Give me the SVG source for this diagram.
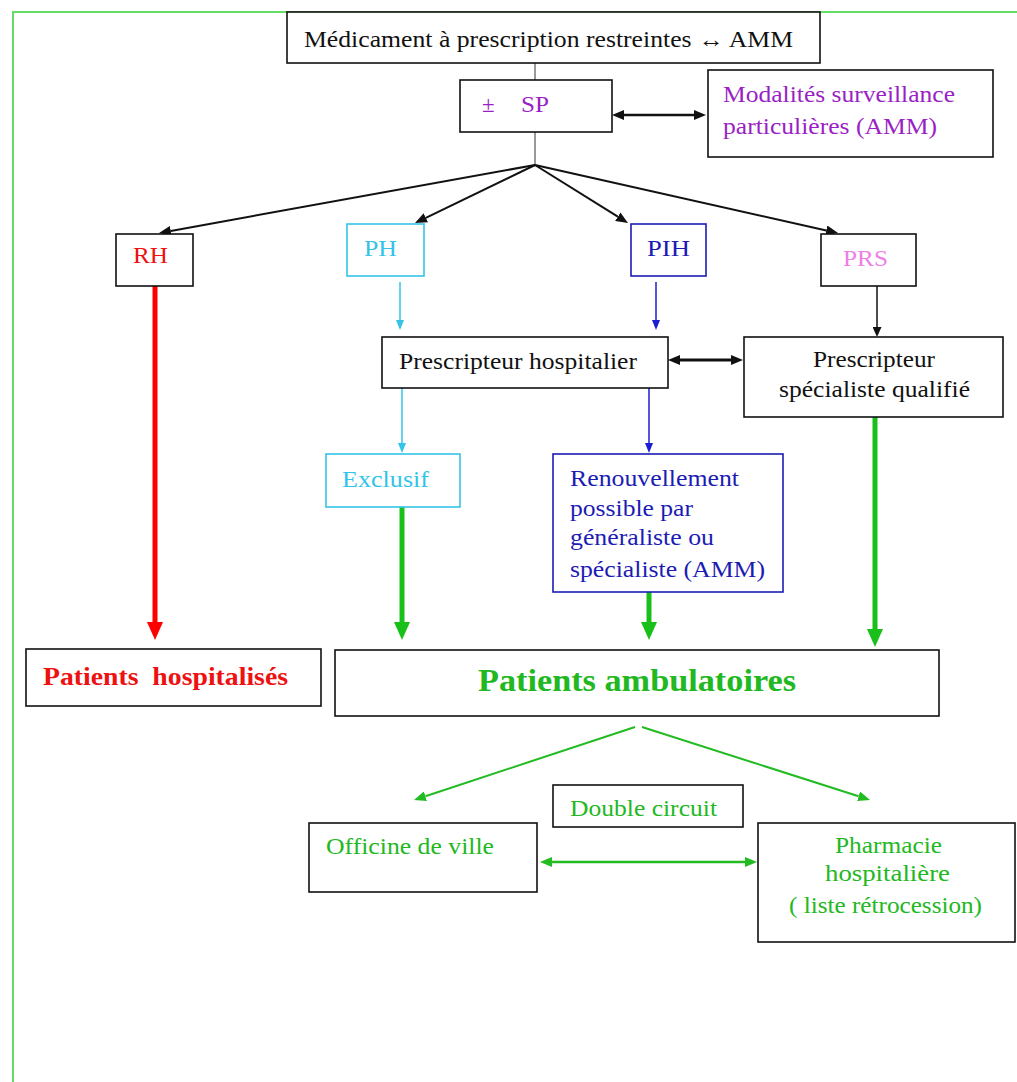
<svg xmlns="http://www.w3.org/2000/svg" width="1017" height="1082" viewBox="0 0 1017 1082">
<style>
text{font-family:"Liberation Serif","Times New Roman",serif;font-size:23px}
.bx{fill:#fff;stroke:#111;stroke-width:1.6}
.k{fill:#111}.pu{fill:#9a1fc4}.r{fill:#ee1111}.c{fill:#33c4e8}.b{fill:#1c1cb4}.pk{fill:#ee7ee8}.g{fill:#22b822}
.bold{font-weight:bold}
</style>
<defs>
<marker id="hk" markerUnits="userSpaceOnUse" markerWidth="12" markerHeight="10" refX="0" refY="5" orient="auto-start-reverse"><path d="M0,0L12,5L0,10z" fill="#111"/></marker>
<marker id="hk2" markerUnits="userSpaceOnUse" markerWidth="10" markerHeight="9" refX="0" refY="4.5" orient="auto"><path d="M0,0L10,4.5L0,9z" fill="#111"/></marker>
<marker id="hc" markerUnits="userSpaceOnUse" markerWidth="10" markerHeight="8" refX="0" refY="4" orient="auto"><path d="M0,0L10,4L0,8z" fill="#33c4e8"/></marker>
<marker id="hb" markerUnits="userSpaceOnUse" markerWidth="10" markerHeight="8" refX="0" refY="4" orient="auto"><path d="M0,0L10,4L0,8z" fill="#1c1cd4"/></marker>
<marker id="hr" markerUnits="userSpaceOnUse" markerWidth="18" markerHeight="16" refX="0" refY="8" orient="auto"><path d="M0,0L18,8L0,16z" fill="#ff0000"/></marker>
<marker id="hg" markerUnits="userSpaceOnUse" markerWidth="18" markerHeight="16" refX="0" refY="8" orient="auto"><path d="M0,0L18,8L0,16z" fill="#19c019"/></marker>
<marker id="hg2" markerUnits="userSpaceOnUse" markerWidth="12" markerHeight="10" refX="0" refY="5" orient="auto-start-reverse"><path d="M0,0L12,5L0,10z" fill="#22bb22"/></marker>
</defs>
<rect width="1017" height="1082" fill="#fff"/>
<path d="M13,1082V12H1017" fill="none" stroke="#66dd66" stroke-width="2"/>
<g id="connectors" fill="none">
<line x1="535" y1="63" x2="535" y2="80" stroke="#555" stroke-width="1.2"/>
<line x1="535" y1="132" x2="535" y2="165" stroke="#555" stroke-width="1.2"/>
<line x1="624" y1="115" x2="694" y2="115" stroke="#111" stroke-width="2.5" marker-start="url(#hk)" marker-end="url(#hk)"/>
<line x1="535" y1="165" x2="170.8" y2="230.9" stroke="#111" stroke-width="2" marker-end="url(#hk)"/>
<line x1="535" y1="165" x2="425.8" y2="217.8" stroke="#111" stroke-width="2" marker-end="url(#hk)"/>
<line x1="535" y1="165" x2="617.8" y2="216.7" stroke="#111" stroke-width="2" marker-end="url(#hk)"/>
<line x1="535" y1="165" x2="826.3" y2="230.4" stroke="#111" stroke-width="2" marker-end="url(#hk)"/>
<line x1="400" y1="282" x2="400" y2="320" stroke="#33c4e8" stroke-width="1.5" marker-end="url(#hc)"/>
<line x1="656" y1="282" x2="656" y2="320" stroke="#1c1cd4" stroke-width="1.5" marker-end="url(#hb)"/>
<line x1="877" y1="286" x2="877" y2="327" stroke="#111" stroke-width="1.5" marker-end="url(#hk2)"/>
<line x1="680" y1="360" x2="731" y2="360" stroke="#111" stroke-width="3" marker-start="url(#hk)" marker-end="url(#hk)"/>
<line x1="402" y1="388" x2="402" y2="443" stroke="#33c4e8" stroke-width="1.5" marker-end="url(#hc)"/>
<line x1="649" y1="388" x2="649" y2="443" stroke="#1c1cd4" stroke-width="1.5" marker-end="url(#hb)"/>
<line x1="155" y1="286" x2="155" y2="622" stroke="#ff0000" stroke-width="5" marker-end="url(#hr)"/>
<line x1="402" y1="507" x2="402" y2="622" stroke="#19c019" stroke-width="5" marker-end="url(#hg)"/>
<line x1="649" y1="592" x2="649" y2="622" stroke="#19c019" stroke-width="5" marker-end="url(#hg)"/>
<line x1="875" y1="417" x2="875" y2="629" stroke="#19c019" stroke-width="5" marker-end="url(#hg)"/>
<line x1="635" y1="727" x2="425.4" y2="796.2" stroke="#22bb22" stroke-width="2" marker-end="url(#hg2)"/>
<line x1="642" y1="727" x2="858.6" y2="796.3" stroke="#22bb22" stroke-width="2" marker-end="url(#hg2)"/>
<line x1="552" y1="862" x2="745" y2="862" stroke="#22bb22" stroke-width="2.5" marker-start="url(#hg2)" marker-end="url(#hg2)"/>
</g>
<g id="n-top"><rect class="bx" x="287" y="12" width="533" height="51"/><text class="k" x="304" y="47" textLength="489" lengthAdjust="spacingAndGlyphs">Médicament à prescription restreintes ↔ AMM</text></g>
<g id="n-sp"><rect class="bx" x="460" y="80" width="152" height="52"/><text class="pu" x="482" y="112">±</text><text class="pu" x="521" y="112" textLength="28" lengthAdjust="spacingAndGlyphs">SP</text></g>
<g id="n-modalites"><rect class="bx" x="708" y="70" width="285" height="87"/><text class="pu" x="723" y="102" textLength="232" lengthAdjust="spacingAndGlyphs">Modalités surveillance</text><text class="pu" x="723" y="134" textLength="214" lengthAdjust="spacingAndGlyphs">particulières (AMM)</text></g>
<g id="n-rh"><rect class="bx" x="116" y="234" width="77" height="52"/><text class="r" x="133" y="263" textLength="35" lengthAdjust="spacingAndGlyphs">RH</text></g>
<g id="n-ph"><rect class="bx" style="stroke:#33c4e8" x="347" y="224" width="77" height="52"/><text class="c" x="364" y="256" textLength="33" lengthAdjust="spacingAndGlyphs">PH</text></g>
<g id="n-pih"><rect class="bx" style="stroke:#1c1cb4" x="631" y="224" width="75" height="52"/><text class="b" x="647" y="256" textLength="43" lengthAdjust="spacingAndGlyphs">PIH</text></g>
<g id="n-prs"><rect class="bx" x="821" y="234" width="95" height="52"/><text class="pk" x="843" y="266" textLength="45" lengthAdjust="spacingAndGlyphs">PRS</text></g>
<g id="n-presc-hosp"><rect class="bx" x="382" y="337" width="286" height="51"/><text class="k" x="399" y="369" textLength="238" lengthAdjust="spacingAndGlyphs">Prescripteur hospitalier</text></g>
<g id="n-presc-spec"><rect class="bx" x="744" y="337" width="259" height="80"/><text class="k" x="813" y="367" textLength="122" lengthAdjust="spacingAndGlyphs">Prescripteur</text><text class="k" x="779" y="397" textLength="191" lengthAdjust="spacingAndGlyphs">spécialiste qualifié</text></g>
<g id="n-exclusif"><rect class="bx" style="stroke:#33c4e8" x="326" y="454" width="134" height="53"/><text class="c" x="342" y="487" textLength="87" lengthAdjust="spacingAndGlyphs">Exclusif</text></g>
<g id="n-renouv"><rect class="bx" style="stroke:#1c1cb4" x="553" y="454" width="230" height="138"/>
<text class="b" x="570" y="486" textLength="169" lengthAdjust="spacingAndGlyphs">Renouvellement</text>
<text class="b" x="570" y="516" textLength="123" lengthAdjust="spacingAndGlyphs">possible par</text>
<text class="b" x="570" y="545" textLength="144" lengthAdjust="spacingAndGlyphs">généraliste ou</text>
<text class="b" x="570" y="577" textLength="195" lengthAdjust="spacingAndGlyphs">spécialiste (AMM)</text></g>
<g id="n-pat-hosp"><rect class="bx" x="26" y="649" width="295" height="57"/><text class="r bold" x="43" y="685" style="font-size:25px" textLength="245" lengthAdjust="spacingAndGlyphs" xml:space="preserve">Patients  hospitalisés</text></g>
<g id="n-pat-amb"><rect class="bx" x="335" y="650" width="604" height="66"/><text class="g bold" x="478" y="691" style="font-size:32px" textLength="318" lengthAdjust="spacingAndGlyphs">Patients ambulatoires</text></g>
<g id="n-double"><rect class="bx" x="553" y="785" width="190" height="42"/><text class="g" x="570" y="816" textLength="147" lengthAdjust="spacingAndGlyphs">Double circuit</text></g>
<g id="n-officine"><rect class="bx" x="309" y="823" width="228" height="69"/><text class="g" x="326" y="854" textLength="168" lengthAdjust="spacingAndGlyphs">Officine de ville</text></g>
<g id="n-pharmacie"><rect class="bx" x="758" y="823" width="257" height="119"/>
<text class="g" x="835" y="853" textLength="107" lengthAdjust="spacingAndGlyphs">Pharmacie</text>
<text class="g" x="825" y="881" textLength="125" lengthAdjust="spacingAndGlyphs">hospitalière</text>
<text class="g" x="789" y="913" textLength="193" lengthAdjust="spacingAndGlyphs">( liste rétrocession)</text></g>
</svg>
